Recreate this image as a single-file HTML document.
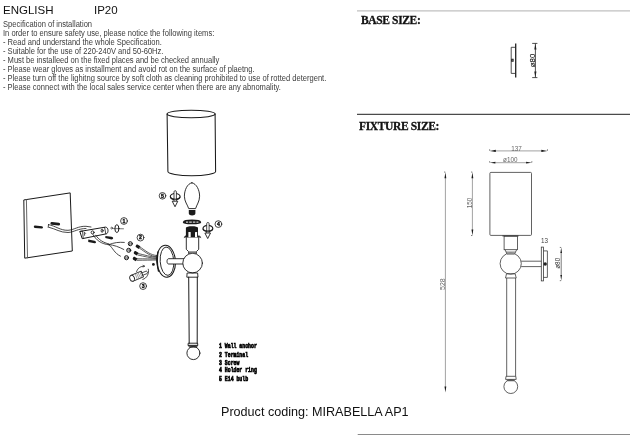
<!DOCTYPE html>
<html><head><meta charset="utf-8">
<style>
html,body{margin:0;padding:0;background:#fff;}
body{width:630px;height:435px;position:relative;overflow:hidden;font-variant-ligatures:none;filter:grayscale(1);font-family:"Liberation Sans",sans-serif;color:#2a2a2a;}
.t{position:absolute;white-space:nowrap;}
#eng{left:3px;top:3.8px;font-size:11.5px;color:#111;}
#ip{left:94px;top:3.8px;font-size:11.5px;color:#111;}
#spec{color:#3c3c3c;left:3px;top:19.8px;font-size:7.6px;line-height:8.05px;transform:scale(0.995,1.13);transform-origin:0 0;}
.hd{position:absolute;font-family:"Liberation Serif",serif;font-weight:bold;font-size:11.5px;letter-spacing:-0.36px;-webkit-text-stroke:0.3px #111;white-space:nowrap;color:#111;}
#prod{left:221px;top:404.5px;font-size:12.6px;color:#111;}
.leg{position:absolute;left:219px;top:342px;font-family:"Liberation Mono",monospace;font-weight:bold;font-size:4.85px;line-height:5.83px;transform:scaleY(1.45);-webkit-text-stroke:0.5px #000;transform-origin:0 0;white-space:nowrap;}
svg{position:absolute;left:0;top:0;}
</style></head><body>
<div class="t" id="eng">ENGLISH</div>
<div class="t" id="ip">IP20</div>
<div class="t" id="spec">Specification of installation<br>In order to ensure safety use, please notice the following items:<br>- Read and understand the whole Specification.<br>- Suitable for the use of 220-240V and 50-60Hz.<br>- Must be installeed on the fixed places and be checked annually<br>- Please wear gloves as installment and avoid rot on the surface of plaetng.<br>- Please turn off the lighitng source by soft cloth as cleaning prohibited to use of rotted detergent.<br>- Please connect with the local sales service center when there are any abnomality.</div>
<div class="hd" style="left:361px;top:13.5px;">BASE SIZE:</div>
<div class="hd" style="left:359px;top:119.5px;">FIXTURE SIZE:</div>
<div class="t" id="prod">Product coding: MIRABELLA AP1</div>
<div class="leg">1 Wall anchor<br>2 Terminal<br>3 Screw<br>4 Holder ring<br>5 E14 bulb</div>
<svg width="630" height="435" viewBox="0 0 630 435">
<g fill="none" stroke="#222">
<!-- separators -->
<line x1="357" y1="10.8" x2="630" y2="10.8" stroke="#c0c0c0" stroke-width="1.3"/>
<line x1="357" y1="114.3" x2="630" y2="114.3" stroke="#1e1e1e" stroke-width="1"/>
<line x1="357.7" y1="434.5" x2="630" y2="434.5" stroke="#8a8a8a" stroke-width="1.2"/>
</g>
<!-- base size drawing -->
<g fill="none" stroke="#222" stroke-width="0.8">
<line x1="515.7" y1="43.5" x2="515.7" y2="77.6" stroke-width="1.3"/>
<polyline points="515.4,47.3 511.2,47.3 511.2,73.4 515.4,73.4"/>
<rect x="511.6" y="59.2" width="1.6" height="2.1" stroke-width="0.9"/>
<line x1="535.4" y1="43.5" x2="535.4" y2="77.4"/>
<line x1="532.2" y1="43.4" x2="537.4" y2="43.4"/>
<line x1="532.2" y1="77.6" x2="537.4" y2="77.6"/>
</g>
<g fill="#222">
<path d="M535.4 43.8 L536.5 49.4 L534.3 49.4 Z"/>
<path d="M535.4 77.2 L536.5 71.4 L534.3 71.4 Z"/>
</g>
<text font-family="Liberation Sans" font-size="6.4" fill="#222" stroke="#222" stroke-width="0.15" text-anchor="middle" transform="translate(534.5 60.5) rotate(-90) scale(1.22 1)">ø80</text>

<!-- fixture drawing right -->
<g fill="none" stroke="#8a8a8a" stroke-width="0.8">
<line x1="494" y1="150.9" x2="543" y2="150.9"/>
<line x1="494" y1="162.7" x2="527" y2="162.7"/>
<line x1="445.4" y1="177" x2="445.4" y2="388"/>
<line x1="472.4" y1="177" x2="472.4" y2="231"/>
<line x1="561.2" y1="252" x2="561.2" y2="276" stroke="#555"/>
</g>
<g fill="#1a1a1a" stroke="none">
<path d="M489.8 150.9 L495.8 149.8 L495.8 152 Z"/>
<path d="M547.3 150.9 L541.3 149.8 L541.3 152 Z"/>
<path d="M489.8 162.7 L495.4 161.8 L495.4 163.6 Z"/>
<path d="M531.7 162.7 L526.1 161.8 L526.1 163.6 Z"/>
<path d="M445.4 172.2 L446.3 178.3 L444.5 178.3 Z"/>
<path d="M445.4 392.5 L446.3 386.4 L444.5 386.4 Z"/>
<path d="M472.4 172.2 L473.3 178.3 L471.5 178.3 Z"/>
<path d="M472.4 235.4 L473.3 229.4 L471.5 229.4 Z"/>
<path d="M561.2 247.5 L562 253 L560.4 253 Z"/>
<path d="M561.2 280.6 L562 275 L560.4 275 Z"/>
</g>
<g fill="none" stroke="#444" stroke-width="0.7">
<path d="M489.6 149.3 L489.8 150.9 M547.5 149.3 L547.3 150.9 M489.6 161.2 L489.8 162.7 M531.9 161.2 L531.7 162.7 M444 172 L445.4 172.2 M471 172 L472.4 172.2 M471 235.6 L472.4 235.4 M559.8 247.4 L561.2 247.5 M559.8 280.7 L561.2 280.6"/>
</g>
<g fill="none" stroke="#3a3a3a" stroke-width="0.8">
<!-- shade -->
<rect x="489.9" y="172.4" width="41.6" height="63" rx="1"/>
<!-- holder -->
<path d="M502.4 235.9 L518.6 235.9" stroke-width="1"/>
<rect x="504.1" y="236.2" width="13.5" height="13.5"/>
<path d="M505 249.7 L507 254 L514.5 254 L516.7 249.7"/>
<path d="M506 252 L515.5 252" stroke-width="0.6"/>
<circle cx="510.7" cy="263.6" r="10.6"/>
<path d="M521.2 261.2 L541.3 261.2 M521.2 266.6 L541.3 266.6"/>
<rect x="541.3" y="247.1" width="2.2" height="33.8"/>
<path d="M543.5 250.9 L547.4 250.9 L547.4 277.4 L543.5 277.4"/>
<path d="M506.5 273.8 L515.2 273.8 L516.2 278 L505.5 278 Z"/>
<path d="M506.7 278 L506.7 376.3 M515.6 278 L515.6 376.3"/>
<path d="M506 376.3 L515.8 376.3 L516.2 379.4 L505.6 379.4 Z"/>
<circle cx="510.8" cy="386.6" r="6.9"/>
</g>
<path d="M506.2 379.4 L515.4 379.4 L514 381.2 L507.6 381.2 Z" fill="#5a5a5a"/>
<path d="M506.6 252.3 L514.9 252.3 L514.2 254.2 L507.3 254.2 Z" fill="#8a8a8a"/>
<circle cx="545.2" cy="264" r="1.7" fill="#222"/>
<g font-family="Liberation Sans" font-size="6.3" fill="#666" text-anchor="middle">
<text x="516.4" y="150.5">137</text>
<text x="510.3" y="162">ø100</text>
<text x="544.6" y="242.6" fill="#444">13</text>
<text transform="translate(560.4 263.3) rotate(-90)" fill="#333">ø80</text>
<text transform="translate(472.4 203) rotate(-90)">150</text>
<text transform="translate(445.4 284.1) rotate(-90)" font-size="7">528</text>
</g>

<!-- left exploded diagram -->
<g fill="none" stroke="#1a1a1a" stroke-width="0.9" stroke-linecap="round" stroke-linejoin="round">
<!-- shade -->
<path d="M167.1 114 L167.9 171.5 A23.85 4.2 0 0 0 215.6 171.5 L215.1 114" stroke-width="1.05"/>
<ellipse cx="191.1" cy="114" rx="24" ry="3.8" stroke-width="1.1"/>
<!-- bulb -->
<path d="M191.9 182.8 C196.8 183.6 199.6 190.5 199.6 196.2 C199.6 201.5 196.6 205 195.6 208.6 L188.7 208.6 C187.6 205 184.4 201.5 184.4 196.2 C184.4 190.5 187 183.6 191.9 182.8 Z"/>
<!-- wall panel -->
<path d="M24.2 199.9 L70.2 192.9 L72.3 251 L25.1 258.1 Z" stroke-width="1"/>
<line x1="26.4" y1="199.6" x2="27.5" y2="257.8" stroke="#555"/>
<!-- anchors -->
<path d="M35 226.7 L41.8 227.4" stroke-width="2.4"/>
<path d="M51.8 223.4 L58.7 224.2" stroke-width="2.8"/>
<!-- cable -->
<path d="M48.5 224.5 L48.2 227.4 M48.5 224.6 C56 226 60 230.5 68 230.3 C74 230 78 226 86 226.3 L91 227" stroke-width="0.8"/>
<path d="M49 227.3 C56 229 60 232.5 68 232.5 C74 232.2 78 228.5 86 228.5" stroke-width="0.8"/>
<!-- bracket -->
<path d="M80.2 231.4 L105.5 227.1 C107 227 108 229 108 230.5 C108 232 107.5 233.5 106.4 233.8 L82.6 238.6 Z" fill="#fff" stroke-width="1"/>
<path d="M80.2 231.4 L82.6 231 L83.2 238.3" stroke-width="0.8"/>
<path d="M104.6 227.4 L105.8 233.8" stroke-width="0.8"/>
<circle cx="92.6" cy="232.4" r="1.5"/>
<ellipse cx="102.1" cy="230.7" rx="1" ry="1.6"/>
<path d="M84.4 232.5 L84.6 235.5 M84.5 232.6 C86 232.3 86.2 234.2 84.6 234.2" stroke-width="0.6"/>
<!-- wires from bracket -->
<path d="M93 234.5 C96 240 101 244 109 244.8" stroke-width="0.8"/>
<path d="M95.7 235.2 C99 240 103 242.5 109 244" stroke-width="0.8"/>
<path d="M109 244.6 C114 242.5 119 242 124.3 242.4 M109 244.6 C114 245 119 247 123.8 249.5 M109 244.6 C113 248 114 253 120.5 256.2" stroke-width="0.8"/>
<!-- connectors to plate -->
<path d="M139.5 246.6 C146 251 150 255 157 255.6 M139.5 248.2 C146 252.5 150 256.3 157 256.8" stroke-width="0.7"/>
<path d="M138 253.5 C145 255 150 256.8 157 257.4 M137.8 255 C145 256.5 150 258 157 258.4" stroke-width="0.7"/>
<path d="M137 258.8 C145 258.8 150 258.9 157 259 M137 260.3 C145 260.2 150 260.1 157 260" stroke-width="0.7"/>
<!-- wall plate -->
<ellipse cx="166.1" cy="261.2" rx="9.3" ry="16" transform="rotate(-4 166.1 261.2)" stroke-width="1.1"/>
<ellipse cx="167" cy="261.2" rx="6.8" ry="14.2" transform="rotate(-4 167 261.2)" stroke-width="0.9"/>
<path d="M158 252 C157 258 157 265 158.5 271" stroke-width="1.4"/>
<path d="M185 258.7 L168.6 258.7 C166.5 258.7 166.5 264 168.6 264 L185 264" fill="#fff"/>
<!-- holder tube top -->
<path d="M184.2 237.3 L186 235.8 M200.8 237.3 L199 235.8" stroke-width="1"/>
<path d="M186.3 237.7 L186.3 249.3 L188.5 251.5 L188.5 253.5 L196.5 253.5 L196.5 251.5 L198.7 249.3 L198.7 237.7" fill="#fff"/>
<circle cx="192.6" cy="263.1" r="9.8" fill="#fff"/>
<path d="M187.5 273 L197.6 273 L198 277.2 L187.2 277.2 Z"/>
<path d="M188.7 277.2 L189.2 343.4 M197.3 277.2 L197.2 343.4" stroke-width="1"/>
<path d="M188.6 343.2 L197.6 343.2 L197.8 345.4 L188.4 345.4 Z"/>
<path d="M188.6 345.4 L197.6 345.4 L196.6 347.3 L189.6 347.3 Z" fill="#555" stroke-width="0.5"/>
<circle cx="193.4" cy="353.1" r="6.5"/>
<!-- ring -->
<path d="M183.6 222.2 C184.5 219.8 199.5 219.8 200.4 222.2 C200.4 224 183.6 224 183.6 222.2 Z" stroke-width="1.6" fill="#1a1a1a"/>
<!-- rotate icons -->
<g transform="translate(175.2 196.6)">
<ellipse cx="0" cy="0" rx="4.9" ry="3.1" stroke-width="1.2"/>
<path d="M-1.2 4.6 L-1.2 -4.8 C-1.2 -6.3 1.2 -6.3 1.2 -4.8 L1.2 4.6" fill="#fff" stroke-width="0.8"/>
<path d="M-4.6 1 C-3.5 3.2 3.5 3.2 4.6 1" stroke-width="1.2"/>
<path d="M-2.6 4.6 L2.6 4.6 L0 9.8 Z" fill="#fff" stroke-width="0.9"/>
</g>
<g transform="translate(207.9 228.4)">
<ellipse cx="0" cy="0" rx="4.9" ry="3.1" stroke-width="1.2"/>
<path d="M-1.2 4.6 L-1.2 -4.8 C-1.2 -6.3 1.2 -6.3 1.2 -4.8 L1.2 4.6" fill="#fff" stroke-width="0.8"/>
<path d="M-4.6 1 C-3.5 3.2 3.5 3.2 4.6 1" stroke-width="1.2"/>
<path d="M-2.6 4.6 L2.6 4.6 L0 9.8 Z" fill="#fff" stroke-width="0.9"/>
</g>
<circle cx="111.7" cy="228.1" r="0.9" stroke-width="0.6"/>
<ellipse cx="116.9" cy="228.6" rx="2" ry="3.9" stroke-width="1"/>
<line x1="113.5" y1="228.6" x2="123.5" y2="228.8" stroke-width="0.6"/>
<!-- circled numbers -->
<circle cx="124" cy="221" r="3.4" stroke-width="0.8"/>
<circle cx="140.5" cy="237.6" r="3.4" stroke-width="0.8"/>
<circle cx="143.1" cy="286.1" r="3.4" stroke-width="0.8"/>
<circle cx="218.4" cy="224.1" r="3.4" stroke-width="0.8"/>
<circle cx="162.5" cy="195.8" r="3.3" stroke-width="0.8"/>
<!-- nuts -->
<circle cx="130.3" cy="243.7" r="2.05" stroke-width="1"/><path d="M129.6 242.9 l0 1.6 M131.0 242.9 l0 1.6" stroke-width="0.7"/>
<circle cx="128.7" cy="250.3" r="2.05" stroke-width="1"/><path d="M128.0 249.5 l0 1.6 M129.4 249.5 l0 1.6" stroke-width="0.7"/>
<circle cx="126.5" cy="257.7" r="2.05" stroke-width="1"/><path d="M125.8 256.9 l0 1.6 M127.2 256.9 l0 1.6" stroke-width="0.7"/>
<!-- screw item 3 -->
<g transform="translate(132.1 278.2) rotate(-22)">
<path d="M0 -3.1 L11 -3.1 L11 3.1 L0 3.1" fill="#fff" stroke-width="0.9"/>
<ellipse cx="0" cy="0" rx="2.3" ry="3.1" fill="#fff" stroke-width="0.9"/>
<path d="M11 -1.3 L15.5 -1.3 C16.8 -1.3 16.8 1.3 15.5 1.3 L11 1.3" stroke-width="0.7"/>
<path d="M4.5 -3.1 L4.5 3.1 M6 -3.1 L6.3 3.1 M7.6 -3 L8 3 M9.5 -3 L9.6 3" stroke="#777" stroke-width="0.6"/>
</g>
<path d="M136.6 271.5 C138 267.5 141 266.3 143.8 266.2" stroke-width="0.8"/>
<path d="M143 265.3 L145 266.2 L143 267" stroke-width="0.6"/>
<path d="M148.3 269.2 C149.5 273 147 278.5 142.8 279.4" stroke-width="0.8"/>
</g>
<g fill="#1a1a1a">
<path d="M188.8 209.9 L195.4 209.9 L195.4 213.5 C195.4 216 188.8 216 188.8 213.5 Z"/>
<path d="M185.9 228 C186 225.8 198 225.8 198 228 L198 237.6 L185.9 237.6 Z"/><path d="M184.2 237.6 L185.9 235.6 L185.9 237.6 Z M200.8 237.6 L198 235.6 L198 237.6 Z"/>
<path d="M88.3 239.6 L94.5 240.8 C96.5 241.2 96.5 243.6 94.5 243.3 L88.2 241.9 Z"/>
<path d="M105.4 236 L111.5 236.8 C113.8 237 113.6 239.6 111.5 239.5 L105.3 238 Z"/>
<circle cx="153.4" cy="264.4" r="1.4"/>
<path d="M136.8 245.1 l3 0 l0 3.2 l-3 0 c-1.6 0 -1.6 -3.2 0 -3.2 Z" transform="rotate(32 138.1 246.7)"/>
<path d="M134.9 251.7 l3 0 l0 3.2 l-3 0 c-1.6 0 -1.6 -3.2 0 -3.2 Z" transform="rotate(32 136.2 253.3)"/>
<path d="M133.9 257.4 l3 0 l0 3.2 l-3 0 c-1.6 0 -1.6 -3.2 0 -3.2 Z" transform="rotate(32 135.2 259.0)"/>
<path d="M188.5 251.3 L196.5 251.3 L196.5 253.5 L188.5 253.5 Z" fill="#777"/>
</g>
<g fill="#fff">
<rect x="188.4" y="231.9" width="2.3" height="5.3" rx="0.5"/>
<rect x="195" y="231.9" width="2.1" height="5.3" rx="0.5"/>
<rect x="186" y="221.6" width="2.2" height="1"/><rect x="189.2" y="221.6" width="2.6" height="1"/><rect x="192.8" y="221.6" width="2.6" height="1"/><rect x="196.4" y="221.6" width="2" height="1"/>
</g>
<g font-family="Liberation Sans" font-size="5.2" fill="#000" text-anchor="middle" font-weight="bold" stroke="#000" stroke-width="0.3">
<text x="124" y="222.85">1</text>
<text x="140.5" y="239.45">2</text>
<text x="143.1" y="287.95">3</text>
<text x="218.4" y="225.95">4</text>
<text x="162.5" y="197.65">5</text>
</g>
</svg>
</body></html>
